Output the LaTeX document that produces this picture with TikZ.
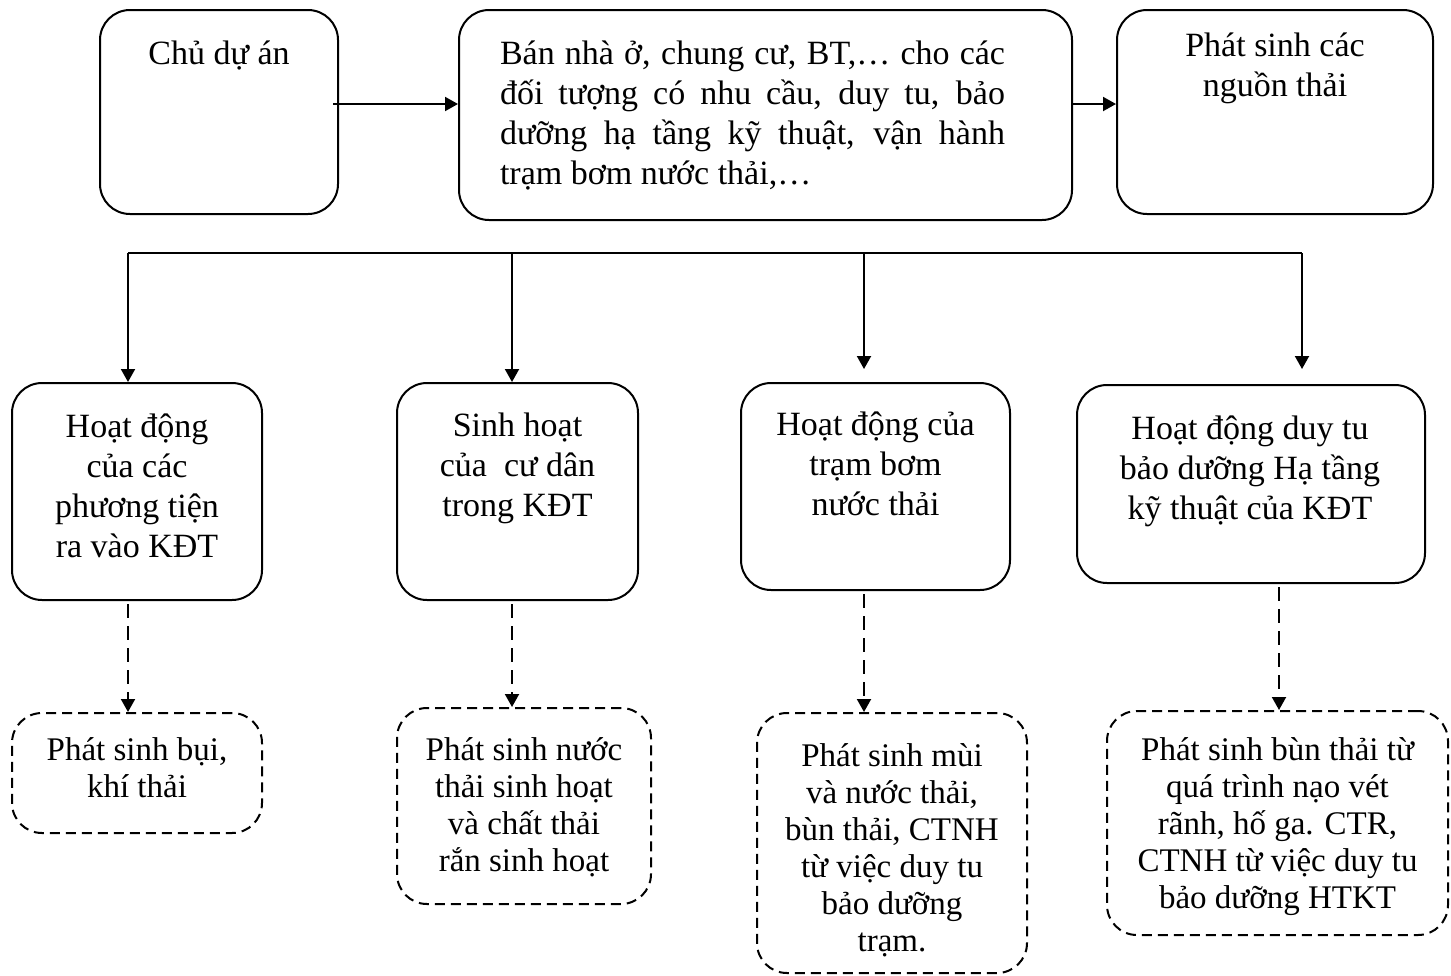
\documentclass[tikz,border=0pt]{standalone}
\usepackage{fontspec}
\setmainfont{Liberation Serif}
\usetikzlibrary{arrows.meta,calc}
\newcommand\fsA{\fontsize{17}{20}\selectfont}
\newcommand\fsB{\fontsize{16.5}{18.5}\selectfont}
\newcommand\fl{\rule{0pt}{16pt}}
\begin{document}
\begin{tikzpicture}[x=0.5pt,y=-0.5pt,
  box/.style={draw, line width=1pt, rounded corners=15pt, inner sep=0pt},
  dashbox/.style={box, dash pattern=on 5pt off 3pt},
  txt/.style={anchor=north, align=center, inner sep=0pt, font=\fsA, execute at begin node=\fl},
  txtb/.style={txt, font=\fsB},
  arr/.style={line width=1pt, -{Triangle[length=6.5pt,width=7pt]}},
  darr/.style={arr, dash pattern=on 7pt off 4pt},
]
\useasboundingbox (0,0) rectangle (1451,975);

% row 1
\node[box, minimum width=119pt, minimum height=102pt] (b1) at (219,112) {};
\node[box, minimum width=306.5pt, minimum height=105pt] (b2) at (765.5,115) {};
\node[box, minimum width=158pt, minimum height=102pt] (b3) at (1275,112) {};
\node[txt] (t1) at (219,32) {Chủ dự án};
\node[txt, text width=252.5pt, align=justify] (t2) at (752.5,32) {Bán nhà ở, chung cư, BT,… cho các\linebreak đối tượng có nhu cầu, duy tu, bảo\linebreak dưỡng hạ tầng kỹ thuật, vận hành\linebreak trạm bơm nước thải,…};
\node[txt] (t3) at (1275,32) {Phát sinh các\\nguồn thải};

% row 2
\node[box, minimum width=125pt, minimum height=108.5pt] (b4) at (137,491.5) {};
\node[box, minimum width=120.5pt, minimum height=108.5pt] (b5) at (517.5,491.5) {};
\node[box, minimum width=134.5pt, minimum height=103.5pt] (b6) at (875.5,486.5) {};
\node[box, minimum width=174pt, minimum height=99pt] (b7) at (1251,484) {};
\node[txt] (t4) at (137,413) {Hoạt động\\của các\\phương tiện\\ra vào KĐT};
\node[txt] (t5) at (517.5,413) {Sinh hoạt\\của~ cư dân\\trong KĐT};
\node[txt] (t6) at (875.5,411) {Hoạt động của\\trạm bơm\\nước thải};
\node[txt] (t7) at (1250,415) {Hoạt động duy tu\\bảo dưỡng Hạ tầng\\kỹ thuật của KĐT};

% row 3
\node[dashbox, minimum width=125pt, minimum height=60pt] (b8) at (137,773) {};
\node[dashbox, minimum width=127pt, minimum height=98pt] (b9) at (524,806) {};
\node[dashbox, minimum width=135pt, minimum height=130pt] (b10) at (892,843) {};
\node[dashbox, minimum width=170.5pt, minimum height=112pt] (b11) at (1277.5,823) {};
\node[txtb] (t8) at (137,737) {Phát sinh bụi,\\khí thải};
\node[txtb] (t9) at (524,737) {Phát sinh nước\\thải sinh hoạt\\và chất thải\\rắn sinh hoạt};
\node[txtb] (t10) at (892,743) {Phát sinh mùi\\và nước thải,\\bùn thải, CTNH\\từ việc duy tu\\bảo dưỡng\\trạm.};
\node[txtb] (t11) at (1277.5,737) {Phát sinh bùn thải từ\\quá trình nạo vét\\rãnh, hố ga. CTR,\\CTNH từ việc duy tu\\bảo dưỡng HTKT};

% connectors row 1
\draw[arr] ($(b1.east)+(-6,-8)$) -- ($(b2.west)+(0,-11)$);
\draw[arr] ($(b2.east)+(0,-11)$) -- ($(b3.west)+(0,-8)$);

% distribution line
\coordinate (h1) at (128,253);
\coordinate (h2) at (512,253);
\coordinate (h3) at (864,253);
\coordinate (h4) at (1302,253);
\coordinate (e3) at (864,369);
\coordinate (e4) at (1302,369);
\coordinate (v4) at (1279,600);
\draw[line width=1pt] (h1) -- (h4);
\draw[arr] (h1) -- (h1 |- b4.north);
\draw[arr] (h2) -- (h2 |- b5.north);
\draw[arr] (h3) -- (e3);
\draw[arr] (h4) -- (e4);

% dashed connectors
\draw[darr] ($(b4.south -| h1)+(0,3)$) -- (b8.north -| h1);
\draw[darr] ($(b5.south -| h2)+(0,3)$) -- (b9.north -| h2);
\draw[darr] ($(b6.south -| h3)+(0,3)$) -- (b10.north -| h3);
\draw[darr] ($(b7.south -| v4)+(0,3)$) -- (b11.north -| v4);
\end{tikzpicture}
\end{document}
